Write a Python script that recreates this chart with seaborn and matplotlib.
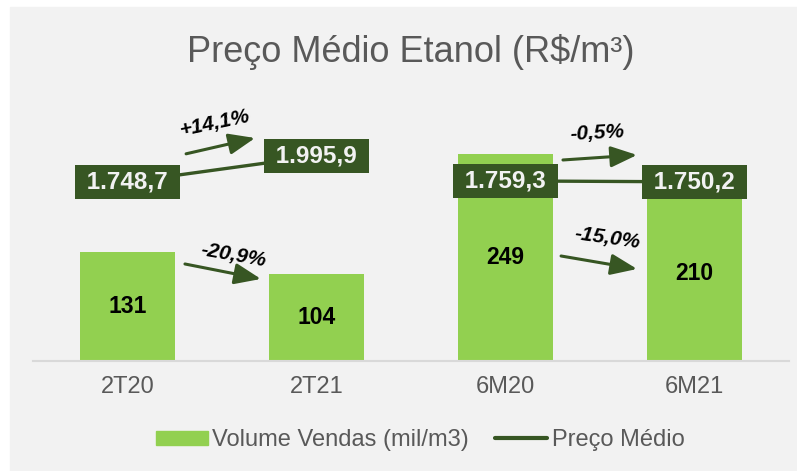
import pandas as pd
import matplotlib
matplotlib.use("Agg")
import matplotlib.pyplot as plt
from matplotlib.patches import Rectangle, Patch
from matplotlib.lines import Line2D
import seaborn as sns

# dados do grafico
periodos = ["2T20", "2T21", "6M20", "6M21"]
volume = [131, 104, 249, 210]
preco = [1748.7, 1995.9, 1759.3, 1750.2]
preco_txt = ["1.748,7", "1.995,9", "1.759,3", "1.750,2"]
grupo = ["T", "T", "M", "M"]
var_preco = ["+14,1%", "-0,5%"]
var_volume = ["-20,9%", "-15,0%"]

verde = "#92D050"
verde_esc = "#375623"
cinza = "#595959"

sns.set_theme(style="white")
plt.rcParams["font.family"] = ["Liberation Sans", "DejaVu Sans"]

df = pd.DataFrame({"periodo": periodos, "volume": volume, "preco": preco,
                   "grupo": grupo, "pos": range(len(periodos))})

fig = plt.figure(figsize=(7.97, 4.71), dpi=100)
fig.patch.set_facecolor("white")
fig.patches.append(Rectangle((10 / 797, 0), 787 / 797, 464 / 471,
                             transform=fig.transFigure, color="#F2F2F2", zorder=-10))

ax = fig.add_axes([33 / 797, 110 / 471, 756 / 797, 271 / 471])
ax.set_facecolor("none")
sns.barplot(data=df, x="periodo", y="volume", color=verde, width=0.5,
            saturation=1, linewidth=0, ax=ax)
ax.set_xlim(-0.5, 3.5)
ax.set_ylim(0, 325.7)
ax.bar_label(ax.containers[0], label_type="center", fontsize=16.5,
             fontweight="bold", color="black")
for s in ["top", "left", "right"]:
    ax.spines[s].set_visible(False)
ax.spines["bottom"].set_color("#D9D9D9")
ax.spines["bottom"].set_linewidth(1.5)
ax.set_yticks([])
ax.set_xlabel("")
ax.set_ylabel("")
ax.tick_params(axis="x", length=0, pad=11, labelsize=17, labelcolor=cinza)

ax2 = ax.twinx()
ax2.set_facecolor("none")
sns.lineplot(data=df, x="pos", y="preco", units="grupo", estimator=None,
             color=verde_esc, lw=2.4, ax=ax2)
ax2.set_ylim(44, 2625)
ax2.set_yticks([])
ax2.set_ylabel("")
for s in ax2.spines.values():
    s.set_visible(False)
for i, (v, t) in enumerate(zip(preco, preco_txt)):
    ax2.text(i, v, " " + t + " ", ha="center", va="center", fontsize=17.5,
             fontweight="bold", color="#F2F2F2", zorder=5,
             bbox=dict(boxstyle="square,pad=0.22", fc=verde_esc, ec="none"))

# setas de variacao (inicio, fim, texto, rotacao)
setas = [
    ((0.31, 249), (0.675, 268), (0.463, 286), 12, var_preco[0]),
    ((0.304, 116.6), (0.706, 98.6), (0.558, 127), -10, var_volume[0]),
    ((2.304, 241.6), (2.696, 247.6), (2.484, 274), 3, var_preco[1]),
    ((2.294, 126.2), (2.696, 110.6), (2.537, 148), -8, var_volume[1]),
]
for ini, fim, pos_txt, rot, txt in setas:
    ax.annotate("", xy=fim, xytext=ini,
                arrowprops=dict(arrowstyle="-|>,head_length=0.8,head_width=0.32",
                                mutation_scale=20, lw=2.2, color=verde_esc,
                                shrinkA=0, shrinkB=0))
    ax.text(pos_txt[0], pos_txt[1], txt, ha="center", va="center", fontsize=15,
            fontweight="bold", fontstyle="italic", rotation=rot, color="black")

fig.text(411 / 797, 419 / 471, "Preço Médio Etanol (R$/m³)", ha="center",
         va="center", fontsize=26, color=cinza)

handles = [Patch(color=verde, label="Volume Vendas (mil/m3)"),
           Line2D([], [], color=verde_esc, lw=3, label="Preço Médio")]
leg = fig.legend(handles=handles, loc="center", bbox_to_anchor=(420 / 797, 31 / 471),
                 ncol=2, frameon=False, fontsize=17, handlelength=2.2,
                 handleheight=0.55, handletextpad=0.2, columnspacing=1.1)
for t in leg.get_texts():
    t.set_color(cinza)

fig.savefig("out.png", dpi=100)
